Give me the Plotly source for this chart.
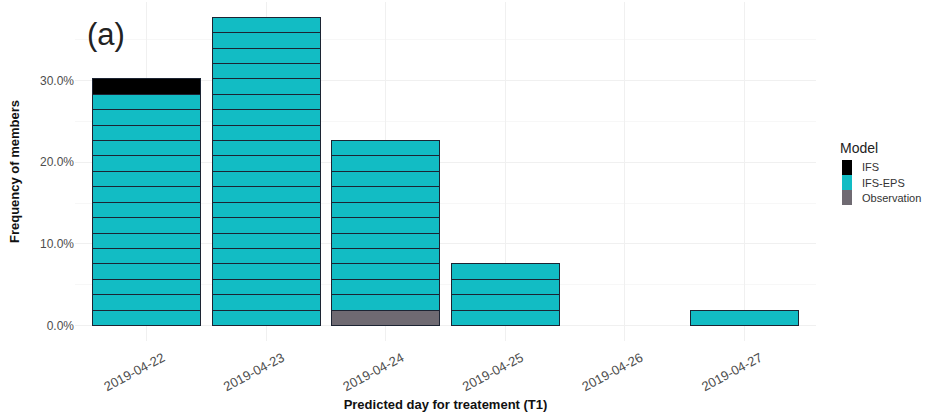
import plotly.graph_objects as go

dates = ["2019-04-22", "2019-04-23", "2019-04-24", "2019-04-25", "2019-04-26", "2019-04-27"]
n_members = 53
ifs_counts = [1, 0, 0, 0, 0, 0]
eps_counts = [15, 20, 11, 4, 0, 1]
obs_counts = [0, 0, 1, 0, 0, 0]

# stacking order: bottom -> top
models = [
    ("Observation", obs_counts, "#6f6a72"),
    ("IFS-EPS", eps_counts, "#12bcc4"),
    ("IFS", ifs_counts, "#000000"),
]
legend_order = ["IFS", "IFS-EPS", "Observation"]

W, H = 931, 419
L, R, T, B = 75, 115, 2, 78
pw, ph = W - L - R, H - T - B


def px_x(x):
    return (x - L) / pw


def px_y(y):
    return (H - B - y) / ph


fig = go.Figure()
for name, counts, color in models:
    for k in range(max(counts)):
        yvals = [1.0 / n_members if c > k else None for c in counts]
        fig.add_trace(go.Bar(
            x=dates, y=yvals, name=name, showlegend=False,
            marker=dict(color=color, line=dict(color="#1c2433", width=1)),
            hoverinfo="skip",
        ))

# hand-drawn legend (ggplot style: contiguous keys)
shapes = []
annotations = [
    dict(text="Model", xref="paper", yref="paper", x=px_x(838), xanchor="left",
         y=px_y(148), yanchor="middle", showarrow=False,
         font=dict(size=14, color="#222222")),
    dict(text="(a)", xref="paper", yref="paper", x=px_x(85), xanchor="left",
         y=px_y(34), yanchor="middle", showarrow=False,
         font=dict(size=31, color="#222222")),
]
colors = {m[0]: m[2] for m in models}
key_top, key_h = 160, 15
for i, name in enumerate(legend_order):
    y0 = key_top + i * key_h
    shapes.append(dict(type="rect", xref="paper", yref="paper",
                       x0=px_x(842), x1=px_x(852), y0=px_y(y0 + key_h), y1=px_y(y0),
                       fillcolor=colors[name], line=dict(width=0)))
    annotations.append(dict(text=name, xref="paper", yref="paper",
                            x=px_x(860), xanchor="left",
                            y=px_y(y0 + key_h / 2), yanchor="middle", showarrow=False,
                            font=dict(size=11, color="#333333")))

fig.update_layout(
    width=W, height=H,
    margin=dict(l=L, r=R, t=T, b=B, autoexpand=False),
    barmode="stack", bargap=0.1,
    plot_bgcolor="white", paper_bgcolor="white",
    font=dict(family="Liberation Sans, Arial, sans-serif", color="#333333"),
    showlegend=False,
    xaxis=dict(
        type="category", tickangle=-28, automargin=False,
        tickfont=dict(size=13, color="#4d4d4d"),
        ticklabelstandoff=6, ticklabelshift=16,
        showgrid=True, gridcolor="#f0f0f0", gridwidth=1,
        ticks="", zeroline=False, showline=False,
        title=dict(text="<b>Predicted day for treatement (T1)</b>",
                   font=dict(size=13, color="#111111"), standoff=6),
        range=[-0.6, 5.6],
    ),
    yaxis=dict(
        tickformat=".1%", tickvals=[0, 0.1, 0.2, 0.3], automargin=False,
        tickfont=dict(size=12, color="#4d4d4d"),
        showgrid=True, gridcolor="#f0f0f0", gridwidth=1,
        minor=dict(tickvals=[0.05, 0.15, 0.25, 0.35], showgrid=True, gridcolor="#f7f7f7"),
        zeroline=False, showline=False, ticks="",
        range=[-1.0 / n_members, 0.396],
        title=dict(text="<b>Frequency of members</b>",
                   font=dict(size=13, color="#111111"), standoff=17),
    ),
    shapes=shapes,
    annotations=annotations,
)

fig.write_html("out.html", config={"displayModeBar": False},
               post_script="document.body.style.margin='0px';")
